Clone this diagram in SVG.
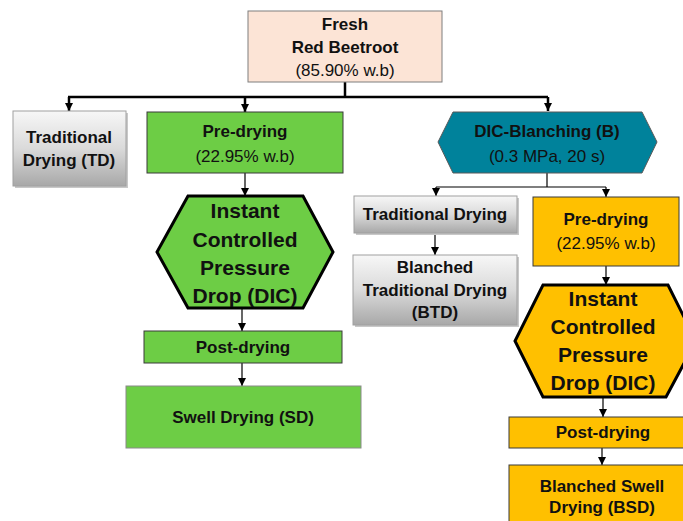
<svg xmlns="http://www.w3.org/2000/svg" width="683" height="521" viewBox="0 0 683 521">
<style>
text{font-family:"Liberation Sans",Arial,sans-serif;fill:#111;text-anchor:middle}
.b{font-weight:bold;font-size:17px}
.r{font-size:17px}
.h{font-weight:bold;font-size:21px}
.grn{fill:#6dcd45;stroke:#3a3a3a;stroke-width:1}
.org{fill:#ffc000;stroke:#3a3a3a;stroke-width:1}
.gry{fill:url(#gg);stroke:#a0a0a0;stroke-width:1}
.sh{fill:#c8c8c8}
.thick{stroke:#000;stroke-width:2.5;fill:none}
.thin{stroke:#000;stroke-width:1.2;fill:none}
</style>
<defs>
<linearGradient id="gg" x1="0" y1="0" x2="0" y2="1">
<stop offset="0" stop-color="#f7f7f7"/>
<stop offset="0.5" stop-color="#dadada"/>
<stop offset="1" stop-color="#a8a8a8"/>
</linearGradient>
<marker id="a" markerUnits="userSpaceOnUse" markerWidth="8" markerHeight="8" refX="8" refY="4" orient="auto">
<path d="M0,0 L8,4 L0,8 z" fill="#000"/>
</marker>
</defs>
<rect width="683" height="521" fill="#fff"/>

<g id="connectors">
<path class="thick" d="M345,82 V97"/>
<path class="thick" d="M68,97 H548"/>
<path class="thick" d="M69,97 V111" marker-end="url(#a)"/>
<path class="thick" d="M245,97 V112" marker-end="url(#a)"/>
<path class="thick" d="M548,97 V111" marker-end="url(#a)"/>
<path class="thin" d="M245,173 V196" marker-end="url(#a)"/>
<path class="thin" d="M242,308 V331" marker-end="url(#a)"/>
<path class="thin" d="M242,363 V386" marker-end="url(#a)"/>
<path class="thin" d="M547,173 V187"/>
<path class="thin" d="M436,187 H606"/>
<path class="thin" d="M436,187 V196" marker-end="url(#a)"/>
<path class="thin" d="M606,187 V197" marker-end="url(#a)"/>
<path class="thin" d="M435,233 V255" marker-end="url(#a)"/>
<path class="thin" d="M606,266 V285" marker-end="url(#a)"/>
<path class="thin" d="M603,397 V417" marker-end="url(#a)"/>
<path class="thin" d="M602,448 V465" marker-end="url(#a)"/>
</g>

<g id="fresh">
<rect x="248" y="11" width="194" height="71" fill="#fce4d6" stroke="#7f7f7f" stroke-width="1"/>
<text class="b" x="345" y="30">Fresh</text>
<text class="b" x="345" y="53">Red Beetroot</text>
<text class="r" x="345" y="76">(85.90% w.b)</text>
</g>

<g id="td">
<rect class="sh" x="15" y="113" width="113" height="75"/>
<rect class="gry" x="13" y="111" width="113" height="75"/>
<text class="b" x="69" y="143">Traditional</text>
<text class="b" x="69" y="166">Drying (TD)</text>
</g>

<g id="predry-green">
<rect class="grn" x="147" y="112" width="196" height="61"/>
<text class="b" x="245" y="137">Pre-drying</text>
<text class="r" x="245" y="162">(22.95% w.b)</text>
</g>

<g id="dic-green">
<polygon points="188,196 303,196 333,252 303,308 188,308 157,252" fill="#6dcd45" stroke="#000" stroke-width="3"/>
<text class="h" x="245" y="218">Instant</text>
<text class="h" x="245" y="247">Controlled</text>
<text class="h" x="245" y="275">Pressure</text>
<text class="h" x="245" y="303">Drop (DIC)</text>
</g>

<g id="postdry-green">
<rect class="grn" x="144" y="331" width="198" height="32"/>
<text class="b" x="243" y="353">Post-drying</text>
</g>

<g id="sd">
<rect x="126" y="386" width="235" height="62" fill="#6dcd45" stroke="#8a8a8a" stroke-width="1"/>
<text class="b" x="243" y="423">Swell Drying (SD)</text>
</g>

<g id="blanching">
<polygon points="453,112 642,112 657,142 642,173 453,173 438,142" fill="#00829b" stroke="#595959" stroke-width="1"/>
<text class="b" x="547" y="137">DIC-Blanching  (B)</text>
<text class="r" x="547" y="162">(0.3 MPa, 20 s)</text>
</g>

<g id="trad-b">
<rect class="sh" x="356" y="198" width="163" height="37"/>
<rect class="gry" x="354" y="196" width="163" height="37"/>
<text class="b" x="435" y="220">Traditional Drying</text>
</g>

<g id="btd">
<rect class="sh" x="355" y="257" width="164" height="70"/>
<rect class="gry" x="353" y="255" width="164" height="70"/>
<text class="b" x="435" y="273">Blanched</text>
<text class="b" x="435" y="296">Traditional Drying</text>
<text class="b" x="435" y="318">(BTD)</text>
</g>

<g id="predry-orange">
<rect class="org" x="533" y="197" width="146" height="69"/>
<text class="b" x="606" y="225">Pre-drying</text>
<text class="r" x="606" y="249">(22.95% w.b)</text>
</g>

<g id="dic-orange">
<polygon points="543,285 668,285 696,341 666,397 543,397 515,341" fill="#ffc000" stroke="#000" stroke-width="3"/>
<text class="h" x="603" y="306">Instant</text>
<text class="h" x="603" y="334">Controlled</text>
<text class="h" x="603" y="362">Pressure</text>
<text class="h" x="603" y="390">Drop (DIC)</text>
</g>

<g id="postdry-orange">
<rect class="org" x="509" y="417" width="190" height="31"/>
<text class="b" x="603" y="438">Post-drying</text>
</g>

<g id="bsd">
<rect class="org" x="509" y="465" width="190" height="70"/>
<text class="b" x="602" y="492">Blanched Swell</text>
<text class="b" x="602" y="513">Drying (BSD)</text>
</g>
</svg>
